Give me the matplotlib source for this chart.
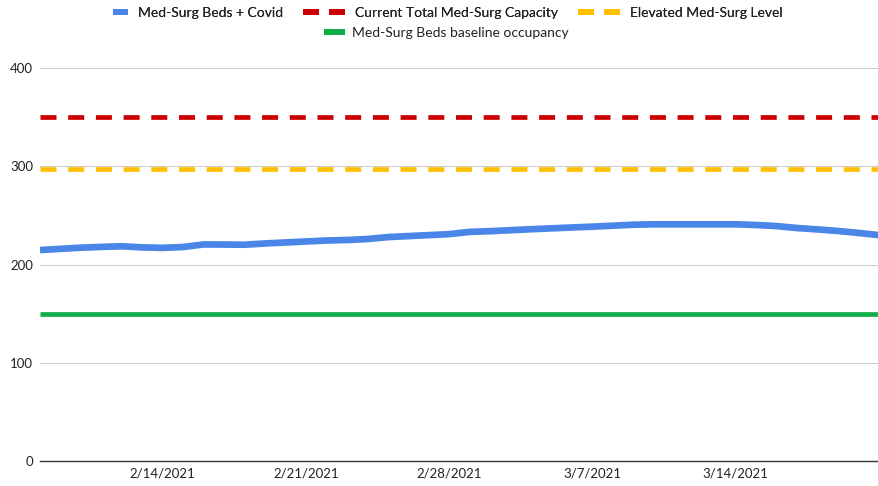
import numpy as np
import pandas as pd
import matplotlib
matplotlib.use("Agg")
import matplotlib.pyplot as plt
import matplotlib.dates as mdates
from matplotlib.lines import Line2D
from matplotlib.legend_handler import HandlerLine2D

plt.rcParams['font.family'] = ['Lato', 'DejaVu Sans']

# daily data, 2/8/2021 .. 3/21/2021
dates = pd.date_range("2021-02-08", "2021-03-21", freq="D")
beds_covid = [214.8, 216.0, 217.2, 218.0, 218.6, 217.5, 217.0, 217.9, 220.5, 220.4,
              220.2, 221.5, 222.5, 223.5, 224.5, 225.0, 226.0, 228.0, 229.0, 230.0,
              231.0, 233.3, 234.0, 235.0, 236.0, 236.9, 237.8, 238.6, 239.6, 240.6,
              241.0, 241.0, 241.0, 241.0, 241.0, 240.3, 239.2, 237.2, 235.8, 234.2,
              232.2, 230.0]
capacity = 350
elevated = 297
baseline = 150

series_names = ["Med-Surg Beds + Covid", "Current Total Med-Surg Capacity",
                "Elevated Med-Surg Level", "Med-Surg Beds baseline occupancy"]
tick_dates = pd.to_datetime(["2021-02-14", "2021-02-21", "2021-02-28", "2021-03-07", "2021-03-14"])
y_ticks = [0, 100, 200, 300, 400]

BLUE = "#4a86e8"
RED = "#cc0000"
YELLOW = "#ffc000"
GREEN = "#0ead48"
TXT = "#222222"

fig = plt.figure(figsize=(8.79, 4.86), dpi=100)
ax = fig.add_axes([40 / 879, 1 - 460.8 / 486, 839 / 879, (460.8 - 68.3) / 486])

px = 72 / 100  # points per pixel
ax.plot(dates, [capacity] * len(dates), color=RED, lw=4.7 * px,
        dashes=(16 / 4.7, 11.7 / 4.7), dash_capstyle='butt', zorder=3)
ax.plot(dates, [elevated] * len(dates), color=YELLOW, lw=4.7 * px,
        dashes=(16 / 4.7, 11.7 / 4.7), dash_capstyle='butt', zorder=3)
ax.plot(dates, [baseline] * len(dates), color=GREEN, lw=4.7 * px,
        solid_capstyle='butt', zorder=3)
ax.plot(dates, beds_covid, color=BLUE, lw=6.7 * px, solid_joinstyle='round',
        solid_capstyle='butt', zorder=4)

ax.set_xlim(dates[0], dates[-1])
ax.set_ylim(0, 400)
ax.set_yticks(y_ticks)
ax.set_xticks(tick_dates)
ax.xaxis.set_major_formatter(mdates.DateFormatter("%-m/%-d/%Y"))
ax.tick_params(axis='both', length=0, labelsize=9.5, colors=TXT)
ax.tick_params(axis='y', pad=5)
ax.tick_params(axis='x', pad=5)
ax.grid(axis='y', color="#cccccc", lw=0.75)
ax.set_axisbelow(True)
for s in ['top', 'right', 'left']:
    ax.spines[s].set_visible(False)
ax.spines['bottom'].set_color("#333333")
ax.spines['bottom'].set_linewidth(1.0)
ax.spines['bottom'].set_zorder(5)


class ShortHandler(HandlerLine2D):
    # short solid swatch placed at the right end of the handle box
    def create_artists(self, legend, orig_handle, xdescent, ydescent,
                       width, height, fontsize, trans):
        y = height / 2 - ydescent
        x1 = width - xdescent
        x0 = x1 - 15 * px
        ln = Line2D([x0, x1], [y, y], color=orig_handle.get_color(),
                    lw=orig_handle.get_linewidth(), solid_capstyle='butt')
        ln.set_transform(trans)
        return [ln]


h_blue = Line2D([], [], color=BLUE, lw=6 * px)
h_red = Line2D([], [], color=RED, lw=6 * px, dashes=(16 / 6, 10 / 6), dash_capstyle='butt')
h_yel = Line2D([], [], color=YELLOW, lw=6 * px, dashes=(16 / 6, 10 / 6), dash_capstyle='butt')
h_grn = Line2D([], [], color=GREEN, lw=6 * px)

fs = 10
fpx = fs / px
leg1 = fig.legend([h_blue, h_red, h_yel], series_names[:3], ncol=3,
                  loc='center', bbox_to_anchor=(434 / 879, 1 - 13 / 486),
                  frameon=False, fontsize=fs, labelcolor=TXT,
                  handlelength=42 / fpx, handletextpad=10 / fpx, columnspacing=20 / fpx,
                  borderpad=0, borderaxespad=0,
                  handler_map={h_blue: ShortHandler()})
leg2 = fig.legend([h_grn], series_names[3:], loc='center',
                  bbox_to_anchor=(448 / 879, 1 - 33 / 486),
                  frameon=False, fontsize=fs, labelcolor=TXT,
                  handlelength=15 / fpx, handletextpad=10 / fpx,
                  borderpad=0, borderaxespad=0)
fig.add_artist(leg1)

fig.savefig("out.png", dpi=100)
